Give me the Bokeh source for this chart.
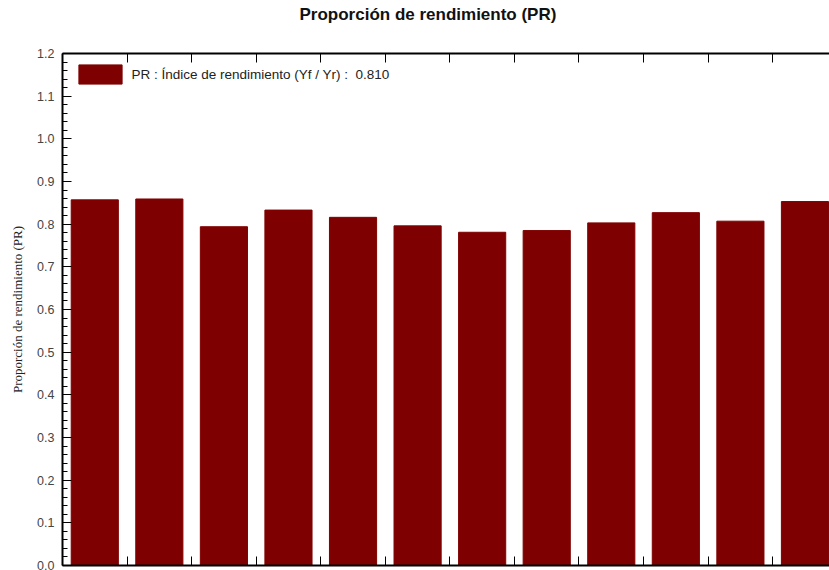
from bokeh.plotting import figure
from bokeh.models import (Range1d, LinearAxis, FixedTicker, Legend, LegendItem, Title,
                          ColumnDataSource, NumeralTickFormatter, CustomJSTickFormatter)
from bokeh.embed import file_html
from bokeh.resources import INLINE

# Data
months = list(range(1, 13))
pr_values = [0.857, 0.859, 0.794, 0.833, 0.816, 0.796, 0.781, 0.785, 0.803, 0.827, 0.807, 0.853]
legend_label = "PR : Índice de rendimiento (Yf / Yr) :  0.810"
title_text = "Proporción de rendimiento (PR)"
y_label = "Proporción de rendimiento (PR)"
y_ticks = [round(0.1 * i, 1) for i in range(13)]
x_ticks = [m + 0.5 for m in months[:-1]]

BAR = "#7f0000"

p = figure(width=829, height=570, output_backend="svg", toolbar_location=None,
           x_range=Range1d(0.5, 12.38), y_range=Range1d(0, 1.2),
           min_border_left=62, min_border_right=0, min_border_top=53, min_border_bottom=5,
           x_axis_location=None, y_axis_location=None)
p.outline_line_color = None
p.xgrid.visible = False
p.ygrid.visible = False

src = ColumnDataSource(dict(x=months, top=pr_values))
r = p.vbar(x="x", top="top", width=0.73, source=src, fill_color=BAR, line_color=BAR)

# Y axis (left)
ya = LinearAxis(ticker=FixedTicker(ticks=y_ticks, minor_ticks=[round(0.02 * i, 2) for i in range(61)]),
                formatter=NumeralTickFormatter(format="0.0"))
ya.axis_line_width = 2
ya.axis_line_color = "black"
ya.major_tick_in = 9
ya.major_tick_out = 0
ya.minor_tick_in = 5
ya.minor_tick_out = 0
ya.major_tick_line_color = "black"
ya.minor_tick_line_color = "black"
ya.major_label_text_font = "Liberation Sans"
ya.major_label_text_font_size = "12.5px"
ya.major_label_text_color = "#444444"
ya.major_label_standoff = 8
ya.axis_label = y_label
ya.axis_label_text_font = "Liberation Serif"
ya.axis_label_text_font_style = "normal"
ya.axis_label_text_font_size = "13px"
ya.axis_label_text_color = "#222222"
ya.axis_label_standoff = 9
p.add_layout(ya, "left")

# X axes (bottom and top), ticks only
for loc in ("below", "above"):
    xa = LinearAxis(ticker=FixedTicker(ticks=x_ticks, minor_ticks=[]),
                    formatter=CustomJSTickFormatter(code="return '';"))
    xa.axis_line_width = 2
    xa.axis_line_color = "black"
    xa.major_tick_in = 9
    xa.major_tick_out = 0
    xa.major_tick_line_color = "black"
    xa.major_label_text_font_size = "1px"
    xa.major_label_standoff = 0
    xa.minor_tick_in = 0
    xa.minor_tick_out = 0
    p.add_layout(xa, loc)

legend = Legend(items=[LegendItem(label=legend_label, renderers=[r])],
                location=(10.5, 479), orientation="vertical")
legend.glyph_width = 54
legend.glyph_height = 24
legend.label_standoff = 5
legend.label_text_font = "Liberation Sans"
legend.label_text_font_size = "13.5px"
legend.label_text_color = "#222222"
legend.border_line_color = None
legend.background_fill_alpha = 0
legend.padding = 0
legend.margin = 0
legend.spacing = 0
p.add_layout(legend, "center")

# Title: a trailing empty line lifts the text higher above the frame
t = Title(text=title_text + "\n", align="left", offset=237,
          text_font="Liberation Sans", text_font_size="17px", text_font_style="bold",
          text_color="#111111", standoff=0, text_line_height=1.55)
p.add_layout(t, "above")

open("out.html", "w").write(file_html(p, INLINE))
